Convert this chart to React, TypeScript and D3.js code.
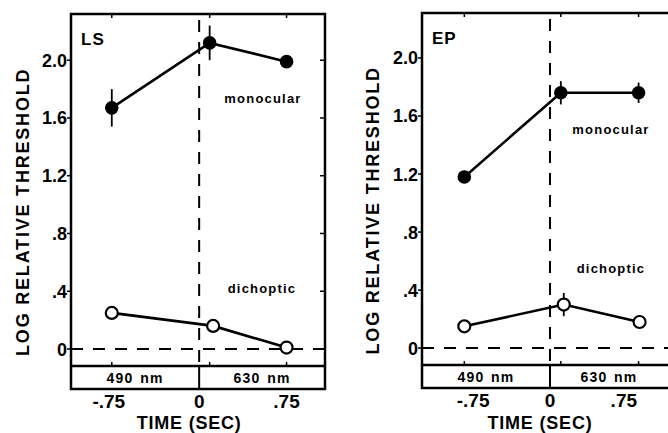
import * as d3 from 'd3';
import React, { useEffect, useRef } from 'react';

const timeTicks = [-0.75, 0, 0.75];
const timeLabels = ['-.75', '0', '.75'];
const yTicks = [0, 0.4, 0.8, 1.2, 1.6, 2.0];
const yLabels = ['0', '.4', '.8', '1.2', '1.6', '2.0'];
const bandLabels = ['490 nm', '630 nm'];

// subject LS
const lsMonoX = [-0.75, 0.09, 0.75];
const lsMonoY = [1.67, 2.12, 1.99];
const lsMonoErr = [0.13, 0.12, 0.03];
const lsDichX = [-0.75, 0.12, 0.75];
const lsDichY = [0.25, 0.16, 0.01];
const lsDichErr = [0.04, 0.02, 0.04];

// subject EP
const epMonoX = [-0.87, 0.11, 0.9];
const epMonoY = [1.18, 1.76, 1.76];
const epMonoErr = [0.02, 0.08, 0.07];
const epDichX = [-0.87, 0.14, 0.91];
const epDichY = [0.15, 0.3, 0.18];
const epDichErr = [0.02, 0.08, 0.03];

const FONT = '"Liberation Sans", Arial, Helvetica, sans-serif';

export default function App() {
  const ref = useRef<SVGSVGElement>(null);

  useEffect(() => {
    const svg = d3.select(ref.current);
    svg.selectAll('*').remove();

    const panels = [
      {
        name: 'LS', left: 71, right: 325, top: 14, bottom: 389,
        xDomain: [-1.1, 1.08], yDomain: [-0.277, 2.32],
        monoLabel: [263, 103], dichLabel: [262, 293],
        mono: { x: lsMonoX, y: lsMonoY, e: lsMonoErr },
        dich: { x: lsDichX, y: lsDichY, e: lsDichErr },
        titleX: 22,
      },
      {
        name: 'EP', left: 422, right: 676, top: 13, bottom: 388,
        xDomain: [-1.3, 1.28], yDomain: [-0.275, 2.31],
        monoLabel: [611, 134], dichLabel: [611, 273],
        mono: { x: epMonoX, y: epMonoY, e: epMonoErr },
        dich: { x: epDichX, y: epDichY, e: epDichErr },
        titleX: 372,
      },
    ];

    panels.forEach(p => {
      const x = d3.scaleLinear().domain(p.xDomain).range([p.left, p.right]);
      const y = d3.scaleLinear().domain(p.yDomain).range([p.bottom, p.top]);
      const g = svg.append('g');
      const sepY = p.bottom - 23;

      // y axis ticks
      yTicks.forEach((t, i) => {
        g.append('line').attr('x1', p.left - 4).attr('x2', p.left)
          .attr('y1', y(t)).attr('y2', y(t)).attr('stroke', '#000').attr('stroke-width', 1.5);
        g.append('line').attr('x1', p.right - 5).attr('x2', p.right)
          .attr('y1', y(t)).attr('y2', y(t)).attr('stroke', '#000').attr('stroke-width', 1.5);
        g.append('text').attr('x', p.left - 4).attr('y', y(t) + 6.5)
          .attr('text-anchor', 'end').attr('font-size', 18).attr('font-weight', 'bold')
          .attr('font-family', FONT).text(yLabels[i]);
      });

      // top ticks at the sampled times
      p.mono.x.forEach(v => {
        g.append('line').attr('x1', x(v)).attr('x2', x(v))
          .attr('y1', p.top).attr('y2', p.top + 4).attr('stroke', '#000').attr('stroke-width', 1.5);
        g.append('line').attr('x1', x(v)).attr('x2', x(v))
          .attr('y1', sepY - 4).attr('y2', sepY).attr('stroke', '#000').attr('stroke-width', 1.5);
      });

      // zero line and stimulus onset line
      g.append('line').attr('x1', p.left).attr('x2', p.right)
        .attr('y1', y(0)).attr('y2', y(0))
        .attr('stroke', '#000').attr('stroke-width', 2).attr('stroke-dasharray', '12,10');
      g.append('line').attr('x1', x(0)).attr('x2', x(0))
        .attr('y1', p.top + 6).attr('y2', sepY)
        .attr('stroke', '#000').attr('stroke-width', 2).attr('stroke-dasharray', '12,10');
      g.append('line').attr('x1', x(0)).attr('x2', x(0))
        .attr('y1', sepY).attr('y2', p.bottom)
        .attr('stroke', '#000').attr('stroke-width', 2);

      // frame
      g.append('rect').attr('x', p.left).attr('y', p.top)
        .attr('width', p.right - p.left).attr('height', p.bottom - p.top)
        .attr('fill', 'none').attr('stroke', '#000').attr('stroke-width', 2.5);
      g.append('line').attr('x1', p.left).attr('x2', p.right)
        .attr('y1', sepY).attr('y2', sepY).attr('stroke', '#000').attr('stroke-width', 2.5);

      // wavelength band labels
      const bandCenters = [(p.left + x(0)) / 2, (x(0) + Math.min(p.right, 668)) / 2];
      bandLabels.forEach((b, i) => {
        g.append('text').attr('x', bandCenters[i]).attr('y', p.bottom - 6)
          .attr('text-anchor', 'middle').attr('font-size', 14).attr('font-weight', 'bold')
          .attr('letter-spacing', 1.2).attr('word-spacing', 1.5)
          .attr('font-family', FONT).text(b);
      });

      // x tick labels
      timeTicks.forEach((t, i) => {
        g.append('text').attr('x', x(t) + (i === 0 ? -3 : 0)).attr('y', p.bottom + 19)
          .attr('text-anchor', 'middle').attr('font-size', 19).attr('font-weight', 'bold')
          .attr('font-family', FONT).text(timeLabels[i]);
      });

      g.append('text').attr('x', x(0) - 10).attr('y', 429)
        .attr('text-anchor', 'middle').attr('font-size', 18).attr('font-weight', 'bold')
        .attr('font-family', FONT).attr('letter-spacing', 0.8).text('TIME (SEC)');

      g.append('text')
        .attr('transform', `translate(${p.titleX + 7},${y(0.95)}) rotate(-90)`)
        .attr('text-anchor', 'middle').attr('font-size', 18).attr('font-weight', 'bold')
        .attr('font-family', FONT).attr('letter-spacing', 1.8).text('LOG RELATIVE THRESHOLD');

      g.append('text').attr('x', p.left + 10).attr('y', p.top + 31)
        .attr('font-size', 17).attr('font-weight', 'bold').attr('letter-spacing', 1)
        .attr('font-family', FONT).text(p.name);

      g.append('text').attr('x', p.monoLabel[0]).attr('y', p.monoLabel[1])
        .attr('text-anchor', 'middle').attr('font-size', 13).attr('font-weight', 'bold')
        .attr('letter-spacing', 1.2).attr('font-family', FONT).text('monocular');
      g.append('text').attr('x', p.dichLabel[0]).attr('y', p.dichLabel[1])
        .attr('text-anchor', 'middle').attr('font-size', 13).attr('font-weight', 'bold')
        .attr('letter-spacing', 1.2).attr('font-family', FONT).text('dichoptic');

      [
        { s: p.mono, filled: true },
        { s: p.dich, filled: false },
      ].forEach(({ s, filled }) => {
        const pts = s.x.map((v, i) => [x(v), y(s.y[i])] as [number, number]);
        g.append('path').attr('d', d3.line()(pts))
          .attr('fill', 'none').attr('stroke', '#000').attr('stroke-width', 2.6);
        s.x.forEach((v, i) => {
          g.append('line').attr('x1', x(v)).attr('x2', x(v))
            .attr('y1', y(s.y[i] + s.e[i])).attr('y2', y(s.y[i] - s.e[i]))
            .attr('stroke', '#000').attr('stroke-width', 1.8);
        });
        s.x.forEach((v, i) => {
          g.append('circle').attr('cx', x(v)).attr('cy', y(s.y[i]))
            .attr('r', filled ? 6.8 : 6)
            .attr('fill', filled ? '#000' : '#fff')
            .attr('stroke', '#000').attr('stroke-width', filled ? 0 : 2.2);
        });
      });
    });
  }, []);

  return (
    <svg ref={ref} width={668} height={433}
      style={{ position: 'absolute', left: 0, top: 0, background: '#fff' }} />
  );
}
